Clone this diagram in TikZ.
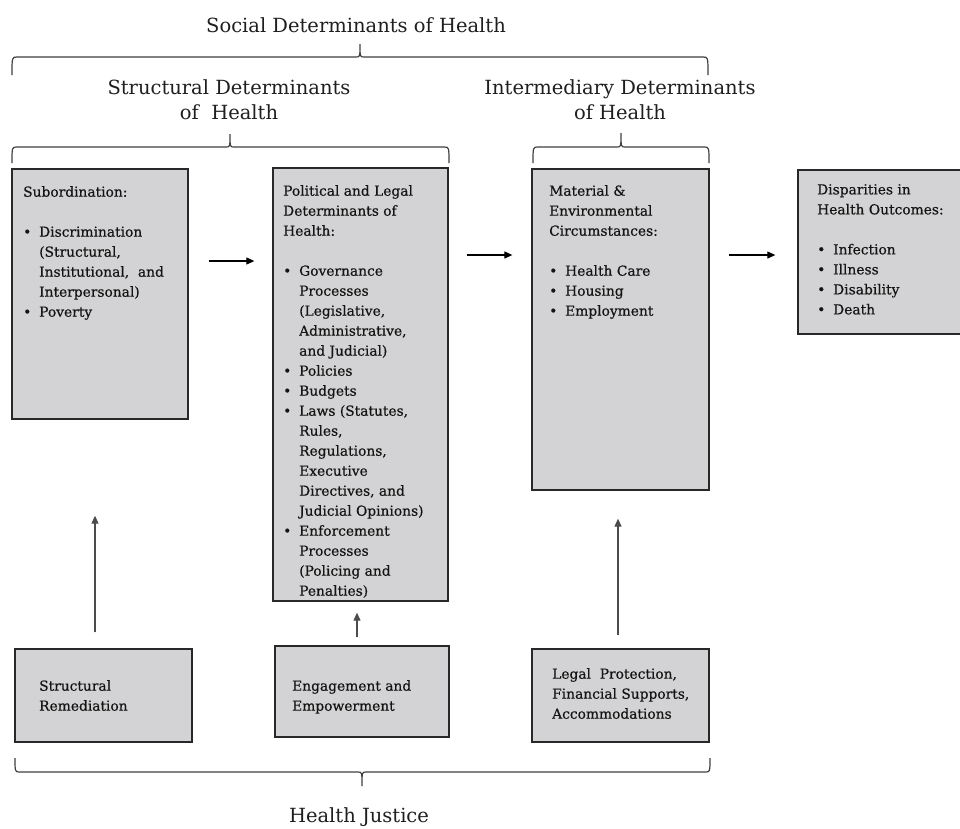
\documentclass[tikz,border=0pt]{standalone}
\usepackage{fontspec}
\setmainfont{DejaVu Serif}
\newfontfamily\boxfont[FakeBold=0.5]{DejaVu Serif}
\usetikzlibrary{arrows.meta,calc}
\definecolor{boxfill}{RGB}{211,211,213}
\definecolor{boxline}{RGB}{40,40,40}
\newcommand{\bl}{\makebox[16pt][l]{\textbullet}}
\newcommand{\ii}{\hspace*{16pt}}
\newcommand{\mybrace}[6]{%
  \draw[bracel] (#1,#5) .. controls (#1,#4) .. (#1+5,#4) -- (#3-4,#4)
    .. controls (#3,#4) .. (#3,#6) .. controls (#3,#4) .. (#3+4,#4)
    -- (#2-5,#4) .. controls (#2,#4) .. (#2,#5);}
\tikzset{
  box/.style={draw=boxline, fill=boxfill, line width=1.3pt, inner sep=0pt},
  btext/.style={anchor=north west, align=left, inner sep=0pt,
    font=\boxfont\fontsize{13.8}{20}\selectfont, text=black!92},
  title/.style={align=center, inner sep=0pt,
    font=\fontsize{19.5}{25}\selectfont, text=black!88},
  arr/.style={-{Triangle[length=8pt,width=7pt]}, line width=1.1pt, draw=black},
  varr/.style={-{Triangle[length=8pt,width=7pt]}, line width=1.1pt, draw=black!70, fill=black},
  bracel/.style={line width=1.2pt, draw=black!75}
}
\begin{document}
\begin{tikzpicture}[x=1pt,y=-1pt]
\useasboundingbox (0,0) rectangle (960,828);
\clip (0,0) rectangle (960,828);
\fill[white] (0,0) rectangle (960,828);

% titles
\node[title] (sdh) at (356,25) {Social Determinants of Health};
\node[title] (struct) at (229,100) {Structural Determinants\\of\ \ Health};
\node[title] (inter) at (620,100) {Intermediary Determinants\\of Health};
\node[title] (hj) at (359,817) {Health Justice};

% braces
\mybrace{12}{708}{360}{57}{75}{44}
\mybrace{12}{449}{230}{147}{163}{134}
\mybrace{533}{709}{621}{147}{163}{133}
\mybrace{15}{710}{362}{772}{758}{786}

% boxes
\node[box, minimum width=176pt, minimum height=250pt] (sub) at (100,294) {};
\node[box, minimum width=175pt, minimum height=433pt] (pol) at (360.5,384.5) {};
\node[box, minimum width=177pt, minimum height=321pt] (mat) at (620.5,329.5) {};
\node[box, minimum width=167pt, minimum height=164pt] (dis) at (881.5,252) {};
\node[box, minimum width=177pt, minimum height=93pt] (sr) at (103.5,695.5) {};
\node[box, minimum width=174pt, minimum height=91pt] (eng) at (362,691.5) {};
\node[box, minimum width=177pt, minimum height=93pt] (leg) at (620.5,695.5) {};

% box texts
\node[btext] (subT) at (23,186) {Subordination:\\[20pt]\bl Discrimination\\\ii(Structural,\\\ii Institutional,\ \ and\\\ii Interpersonal)\\\bl Poverty};
\node[btext] (polT) at (283,185) {Political and Legal\\Determinants of\\Health:\\[20pt]\bl Governance\\\ii Processes\\\ii(Legislative,\\\ii Administrative,\\\ii and Judicial)\\\bl Policies\\\bl Budgets\\\bl Laws (Statutes,\\\ii Rules,\\\ii Regulations,\\\ii Executive\\\ii Directives, and\\\ii Judicial Opinions)\\\bl Enforcement\\\ii Processes\\\ii(Policing and\\\ii Penalties)};
\node[btext] (matT) at (549,185) {Material \&\\Environmental\\Circumstances:\\[20pt]\bl Health Care\\\bl Housing\\\bl Employment};
\node[btext] (disT) at (817,184) {Disparities in\\Health Outcomes:\\[20pt]\bl Infection\\\bl Illness\\\bl Disability\\\bl Death};
\node[btext] (srT) at (39,680) {Structural\\Remediation};
\node[btext] (engT) at (292,680) {Engagement and\\Empowerment};
\node[btext] (legT) at (552,668) {Legal\ \ Protection,\\Financial Supports,\\Accommodations};

% horizontal arrows
\draw[arr, shorten <=20pt, shorten >=18pt] ([yshift=33pt]sub.east) -- ([yshift=33pt]sub.east -| pol.west);
\draw[arr, shorten <=18pt, shorten >=19pt] ([yshift=129.5pt]pol.east) -- ([yshift=129.5pt]pol.east -| mat.west);
\draw[arr, shorten <=19pt, shorten >=22pt] ([yshift=74.5pt]mat.east) -- ([yshift=74.5pt]mat.east -| dis.west);

% vertical arrows
\draw[varr, shorten <=16pt, shorten >=96pt] ([xshift=-8.5pt]sr.north) -- ([xshift=-8.5pt]sr.north |- sub.south);
\draw[varr, shorten <=8pt, shorten >=11pt] ([xshift=-5pt]eng.north) -- ([xshift=-5pt]eng.north |- pol.south);
\draw[varr, shorten <=13pt, shorten >=28pt] ([xshift=-2.5pt]leg.north) -- ([xshift=-2.5pt]leg.north |- mat.south);
\end{tikzpicture}
\end{document}
